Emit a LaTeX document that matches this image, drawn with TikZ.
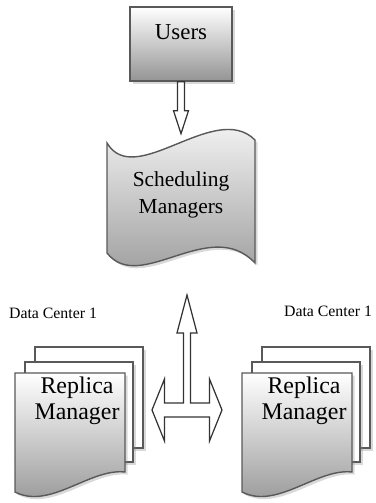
\documentclass[tikz,border=0pt]{standalone}
\usepackage{fontspec}
\setmainfont{Liberation Serif}
\usetikzlibrary{positioning, arrows.meta, shadows}

\begin{document}
\begin{tikzpicture}[
    x=0.02cm, y=-0.02cm,
    sheet/.style={draw=black!65, line width=0.8pt, top color=white, bottom color=black!42,
        drop shadow={opacity=0.3, shadow xshift=1.5pt, shadow yshift=-1.5pt}},
    backsheet/.style={draw=black!65, line width=0.8pt, fill=white,
        drop shadow={opacity=0.3, shadow xshift=1.5pt, shadow yshift=-1.5pt}},
    txt/.style={font=\fontsize{13}{14.5}\selectfont, align=center},
    dclabel/.style={font=\fontsize{9}{11}\selectfont},
    hollow/.style={draw=black!80, line width=0.7pt, fill=white, line join=miter}
]
\useasboundingbox (0,0) rectangle (375,503);

% top: users and scheduling managers
\node[sheet, minimum width=2.04cm, minimum height=1.48cm] (users) at (181,44) {};
\node[txt] (userstxt) at (181,32) {Users};

\path[sheet] (107,143) .. controls (135,190) and (215,100) .. (255,140)
    -- (255,263) .. controls (210,215) and (140,295) .. (107,253) -- cycle;
\node[txt, font=\fontsize{12.2}{15}\selectfont] (sched) at (181,195) {Scheduling\\Managers};

\begin{scope}[shift={(users.south)}]
\draw[hollow] (-3.5,0) -- (3.5,0) -- (3.5,29) -- (7.5,29) -- (0,52)
    -- (-7.5,29) -- (-3.5,29) -- cycle;
\end{scope}

% data centres
\node[dclabel] (dc1) at (53,313) {Data Center 1};
\node[dclabel] (dc2) at (328,311) {Data Center 1};

\foreach \dx/\nm in {0/left, 227/right} {
  \begin{scope}[shift={(\dx,0)}]
  \path[backsheet] (35,347) rectangle (143,448);
  \path[backsheet] (25,362) rectangle (133,462);
  \path[sheet] (15,373) -- (125,373) -- (125,472)
      .. controls (90,468) and (50,510) .. (15,492) -- cycle;
  \node[txt, font=\fontsize{13.6}{15}\selectfont] (rm-\nm) at (77,401) {Replica\\Manager};
  \end{scope}
}

% link between the replica managers and up to the schedulers
\coordinate (hub) at (187,410);
\begin{scope}[shift={(hub)}]
\draw[hollow] (0,-115) -- (10,-77) -- (3.5,-77) -- (3.5,-7) -- (22.5,-7)
    -- (22.5,-31) -- (35,0) -- (22.5,31) -- (22.5,7) -- (-22.5,7)
    -- (-22.5,31) -- (-35,0) -- (-22.5,-31) -- (-22.5,-7) -- (-3.5,-7)
    -- (-3.5,-77) -- (-10,-77) -- cycle;
\end{scope}

\end{tikzpicture}
\end{document}
